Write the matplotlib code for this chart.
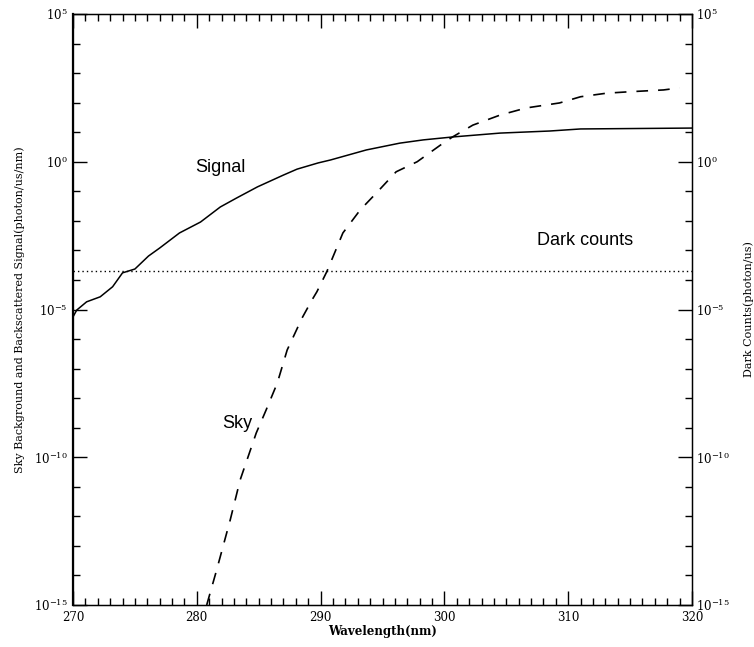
import matplotlib
matplotlib.use("Agg")
import matplotlib.pyplot as plt
from matplotlib.ticker import FixedLocator, FuncFormatter, MultipleLocator, NullFormatter
import numpy as np

# Signal (solid): wavelength (nm) and log10 of photon/us/nm
signal_wl = [270.0, 270.3, 271.1, 272.2, 273.2, 274.0, 275.0, 276.1, 277.0, 278.6,
             280.3, 281.9, 283.2, 284.9, 287.0, 288.1, 289.8, 290.8, 293.7, 296.4,
             298.3, 300.7, 304.5, 308.5, 311.0, 320.0]
signal_log = [-5.25, -5.02, -4.74, -4.57, -4.23, -3.76, -3.63, -3.19, -2.92, -2.41,
              -2.04, -1.53, -1.23, -0.85, -0.45, -0.25, -0.04, 0.06, 0.40, 0.63,
              0.74, 0.84, 0.97, 1.04, 1.11, 1.14]

# Sky background (dashed)
sky_wl = [280.8, 281.6, 282.7, 283.5, 284.8, 285.6, 286.5, 287.3, 288.5, 289.3,
          289.7, 290.5, 291.8, 293.2, 294.5, 296.1, 297.8, 299.9, 300.7, 302.3,
          304.5, 306.6, 309.3, 311.0, 313.1, 315.0, 317.7, 319.0]
sky_log = [-15.0, -13.82, -12.12, -10.77, -9.18, -8.40, -7.49, -6.37, -5.29, -4.68,
           -4.40, -3.72, -2.41, -1.63, -1.06, -0.34, 0.00, 0.63, 0.85, 1.24,
           1.58, 1.82, 1.99, 2.20, 2.32, 2.37, 2.43, 2.50]

# Dark counts (dotted, constant)
dark_wl = [270, 320]
dark_val = [2e-4, 2e-4]

plt.rcParams["mathtext.fontset"] = "dejavuserif"
serif = "DejaVu Serif"

fig = plt.figure(figsize=(7.54, 6.47), dpi=100)
ax = fig.add_axes([73 / 754, 1 - 605 / 647, 619 / 754, 591 / 647])

ax.plot(signal_wl, 10.0 ** np.array(signal_log), color="black", lw=1.1)
ax.plot(sky_wl, 10.0 ** np.array(sky_log), color="black", lw=1.2, dashes=(7, 6))
ax.plot(dark_wl, dark_val, color="black", lw=1.0, dashes=(1, 2.2))

ax.set_yscale("log")
ax.set_xlim(270, 320)
ax.set_ylim(1e-15, 1e5)

major_y = [10.0 ** k for k in range(-15, 6, 5)]
minor_y = [10.0 ** k for k in range(-15, 6) if k % 5 != 0]


def fmt(v, pos):
    return r"$10^{%d}$" % int(round(np.log10(v)))


ax.xaxis.set_major_locator(MultipleLocator(10))
ax.xaxis.set_minor_locator(MultipleLocator(1))
ax.yaxis.set_major_locator(FixedLocator(major_y))
ax.yaxis.set_minor_locator(FixedLocator(minor_y))
ax.yaxis.set_major_formatter(FuncFormatter(fmt))
ax.yaxis.set_minor_formatter(NullFormatter())

ax.tick_params(which="both", direction="in", top=True, right=True, width=1.0)
ax.tick_params(which="major", length=10, labelsize=8.5, pad=4)
ax.tick_params(which="minor", length=5)
for lab in ax.get_xticklabels() + ax.get_yticklabels():
    lab.set_family(serif)

ax2 = ax.twinx()
ax2.set_yscale("log")
ax2.set_ylim(1e-15, 1e5)
ax2.yaxis.set_major_locator(FixedLocator(major_y))
ax2.yaxis.set_minor_locator(FixedLocator(minor_y))
ax2.yaxis.set_major_formatter(FuncFormatter(fmt))
ax2.yaxis.set_minor_formatter(NullFormatter())
ax2.tick_params(which="both", direction="in", width=1.0)
ax2.tick_params(which="major", length=10, labelsize=8.5, pad=3)
ax2.tick_params(which="minor", length=5)

for sp in ax.spines.values():
    sp.set_linewidth(1.0)
ax.spines["left"].set_linewidth(1.6)

ax.set_xlabel("Wavelength(nm)", family=serif, fontsize=8.5, fontweight="bold", labelpad=1)
ax.set_ylabel("Sky Background and Backscattered Signal(photon/us/nm)", family=serif,
              fontsize=8, labelpad=6)
ax2.set_ylabel("Dark Counts(photon/us)", family=serif, fontsize=8, labelpad=10)

ax.text(281.9, 10 ** -0.21, "Signal", family="Liberation Sans", fontsize=13,
        ha="center", va="center")
ax.text(283.3, 10 ** -8.87, "Sky", family="Liberation Sans", fontsize=13,
        ha="center", va="center")
ax.text(311.4, 10 ** -2.65, "Dark counts", family="Liberation Sans", fontsize=13,
        ha="center", va="center")

fig.savefig("out.png", dpi=100)
